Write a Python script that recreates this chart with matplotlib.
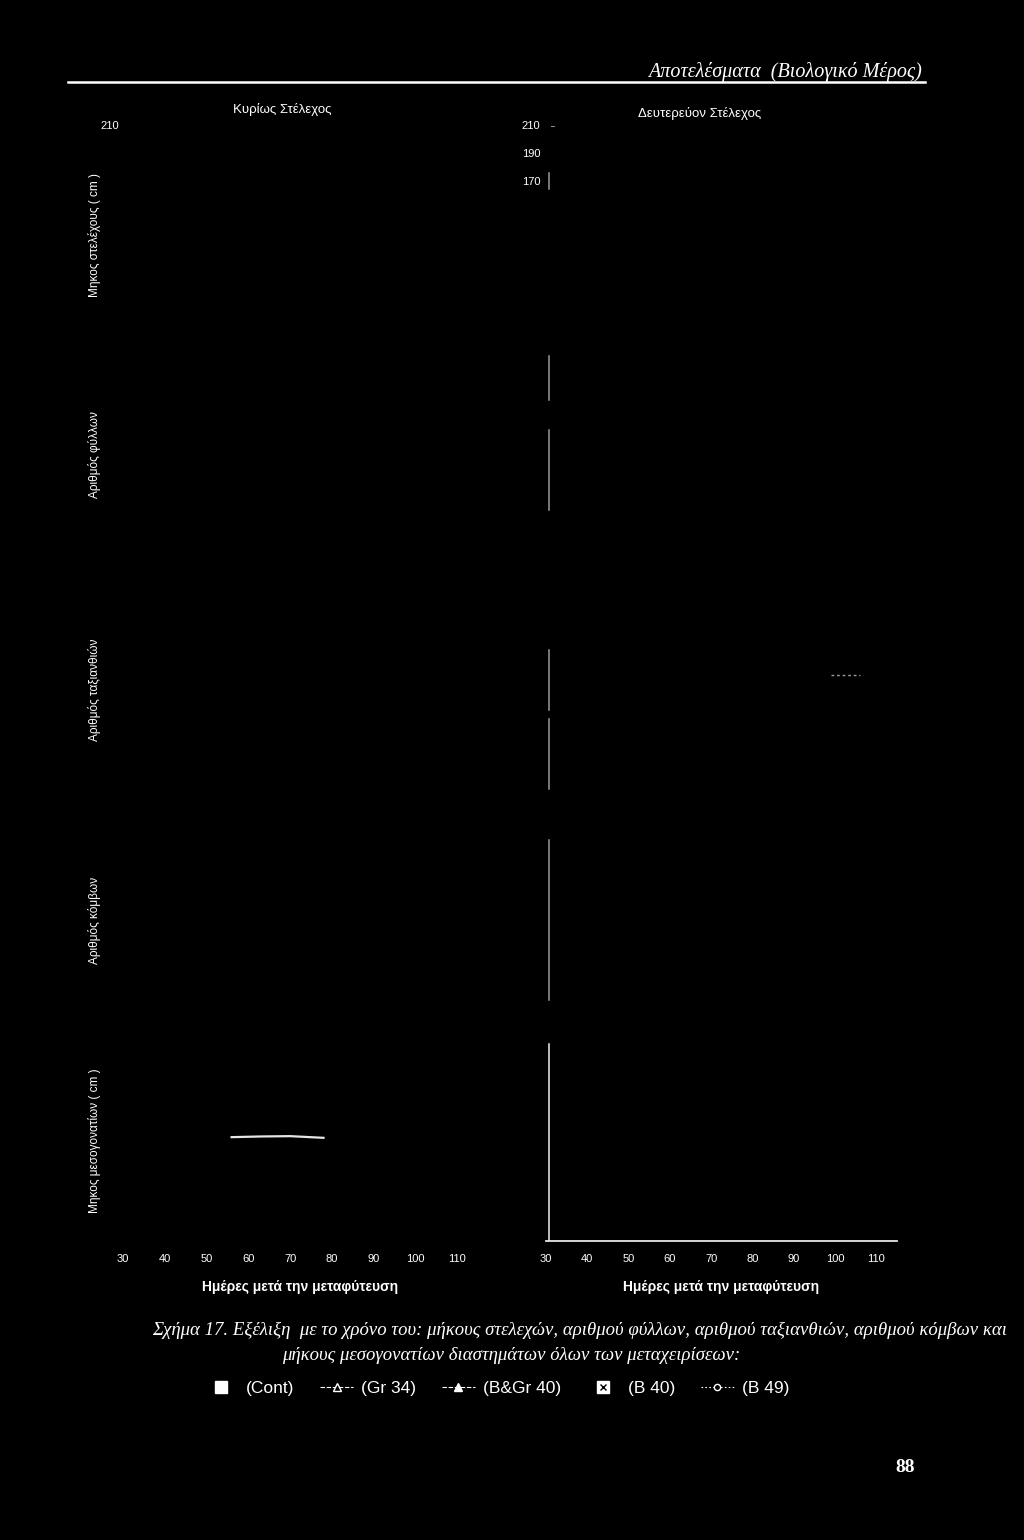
import matplotlib
matplotlib.use("Agg")
import matplotlib.pyplot as plt
from matplotlib.lines import Line2D
from matplotlib.legend_handler import HandlerTuple

plt.rcParams['font.family'] = ['Liberation Sans Narrow', 'Liberation Sans', 'DejaVu Sans']

# --- data ---
row_labels = ["Μηκος στελέχους ( cm )", "Αριθμός φύλλων", "Αριθμός ταξιανθιών",
              "Αριθμός κόμβων", "Μηκος μεσογονατίων ( cm )"]
col_titles = ["Κυρίως Στέλεχος", "Δευτερεύον Στέλεχος"]
x_ticks = [30, 40, 50, 60, 70, 80, 90, 100, 110]
x_label = "Ημέρες μετά την μεταφύτευση"
stem_ticks_left = [210]
stem_ticks_right = [170, 190, 210]

# the only traces still visible on the page
inter_days = [56, 63, 70, 78]          # main stem, internode length
inter_len = [3.10, 3.12, 3.13, 3.08]
infl_days = [99, 106]                  # secondary stem, inflorescences
infl_count = [17.0, 17.0]

# visible bits of the secondary-stem y axis (axes fraction, per row)
spine_bits = [[(0.71, 0.78)], [(0.76, 0.97), (0.24, 0.62)],
              [(0.41, 0.68), (0.05, 0.37)], [(0.10, 0.90)], [(0.0, 0.98)]]

legend_names = ["(Cont)", "(Gr 34)", "(B&Gr 40)", "(B 40)", "(B 49)"]

W, H = 1024, 1540
fig = plt.figure(figsize=(W / 100, H / 100), dpi=100, facecolor="black")

rows_px = [(125, 345), (350, 560), (580, 800), (820, 1020), (1040, 1241)]
cols_px = [(123, 478), (546, 897)]
ylims = [(52.9, 210), (0, 30), (0, 30), (0, 30), (0, 6)]

axes = []
for r, (top, bot) in enumerate(rows_px):
    row = []
    for c, (lft, rgt) in enumerate(cols_px):
        ax = fig.add_axes([lft / W, 1 - bot / H, (rgt - lft) / W, (bot - top) / H])
        ax.set_facecolor("black")
        ax.set_xlim(30, 115)
        ax.set_ylim(*ylims[r])
        for s in ax.spines.values():
            s.set_visible(False)
        ax.tick_params(colors="white", length=0, labelsize=8)
        ax.set_xticks([])
        ax.set_yticks([])
        row.append(ax)
    axes.append(row)

# row labels
for r, lab in enumerate(row_labels):
    ax = axes[r][0]
    ax.set_ylabel(lab, color="white", fontsize=8.5)
    ax.yaxis.set_label_coords((101 - 123) / (478 - 123), 0.5)

# stem length ticks
axes[0][0].set_yticks(stem_ticks_left)
axes[0][0].tick_params(axis="y", pad=3)
axes[0][1].set_yticks(stem_ticks_right)
axes[0][1].tick_params(axis="y", pad=4)

# x axes on the bottom row
for c in range(2):
    ax = axes[4][c]
    ax.set_xticks(x_ticks)
    ax.tick_params(axis="x", pad=9, labelsize=8)
    ax.set_xlabel(x_label, color="white", fontsize=10, fontweight="bold", labelpad=12)

# secondary stem: bright axes in the last row, fragments above
ax = axes[4][1]
ax.spines["bottom"].set_visible(True)
ax.spines["bottom"].set_color("#e8e8e8")
ax.spines["bottom"].set_linewidth(1.3)
for r, bits in enumerate(spine_bits):
    for lo, hi in bits:
        col = "#f0f0f0" if r == 4 else "#9a9a9a"
        axes[r][1].axvline(30.8, lo, hi, color=col, lw=1.1)
axes[0][1].plot([31.2, 32.0], [209, 209], color="#888888", lw=0.8)

# remaining traces
axes[4][0].plot(inter_days, inter_len, color="#e6e6e6", lw=1.6)
axes[2][1].plot(infl_days, infl_count, color="#9a9a9a", lw=1.0, ls=(0, (2, 2)))

# column titles
fig.text(282 / W, 1 - 110 / H, col_titles[0], color="white", fontsize=9.5,
         ha="center", va="center")
fig.text(700 / W, 1 - 113 / H, col_titles[1], color="white", fontsize=9.5,
         ha="center", va="center")

# page header
fig.add_artist(Line2D([68 / W, 925 / W], [1 - 82 / H, 1 - 82 / H],
                      color="white", lw=1.8))
fig.text(922 / W, 1 - 72 / H, "Αποτελέσματα  (Βιολογικό Μέρος)", color="white",
         fontsize=14.5, ha="right", va="center", style="italic",
         family=["Liberation Serif", "DejaVu Serif"])

# caption
cap_font = dict(color="white", fontsize=13.5, style="italic",
                family=["Liberation Serif", "DejaVu Serif"], va="center")
fig.text(152 / W, 1 - 1330 / H,
         "Σχήμα 17. Εξέλιξη  με το χρόνο του: μήκους στελεχών, αριθμού φύλλων, "
         "αριθμού ταξιανθιών, αριθμού κόμβων και", ha="left", **cap_font)
fig.text(511 / W, 1 - 1356 / H,
         "μήκους μεσογονατίων διαστημάτων όλων των μεταχειρίσεων:",
         ha="center", **cap_font)

# legend
h_cont = Line2D([], [], ls="none", marker="s", ms=8, mfc="white", mec="white")
h_gr = Line2D([], [], color="white", lw=0.8, ls=(0, (4, 1.5)), marker="^",
              ms=6, mfc="black", mec="white")
h_bgr = Line2D([], [], color="white", lw=0.8, ls=(0, (4, 1.5)), marker="^",
               ms=6, mfc="white", mec="white")
h_b40 = (Line2D([], [], ls="none", marker="s", ms=9, mfc="white", mec="white"),
         Line2D([], [], ls="none", marker="x", ms=4, mec="black", mew=1))
h_b49 = Line2D([], [], color="white", lw=0.8, ls=(0, (1.5, 2)), marker="o",
               ms=4.5, mfc="black", mec="white")
leg = fig.legend([h_cont, h_gr, h_bgr, h_b40, h_b49], legend_names, ncol=5,
                 loc="center", bbox_to_anchor=(497 / W, 1 - 1388 / H),
                 frameon=False, handlelength=1.9, columnspacing=1.5,
                 handletextpad=0.45, labelcolor="white",
                 handler_map={tuple: HandlerTuple(ndivide=1)},
                 prop={"family": ["Liberation Sans", "DejaVu Sans"], "size": 12.5})

# page number
fig.text(905 / W, 1 - 1467 / H, "88", color="white", fontsize=14, ha="center",
         va="center", fontweight="bold", family=["Liberation Serif", "DejaVu Serif"])

fig.savefig("out.png", dpi=100, facecolor="black")
